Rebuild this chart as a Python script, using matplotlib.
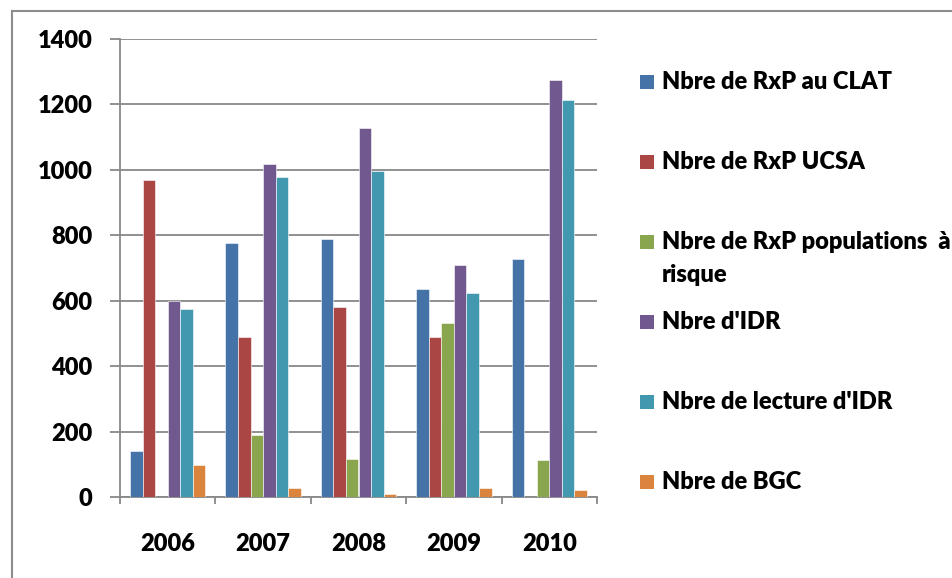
import matplotlib
matplotlib.use("Agg")
import matplotlib.pyplot as plt
from matplotlib.patches import Rectangle
from matplotlib.lines import Line2D
import numpy as np

years = ["2006", "2007", "2008", "2009", "2010"]
series_names = [
    "Nbre de RxP au CLAT",
    "Nbre de RxP UCSA",
    "Nbre de RxP populations  à\nrisque",
    "Nbre d'IDR",
    "Nbre de lecture d'IDR",
    "Nbre de BGC",
]
rxp_clat = [142, 777, 788, 636, 728]
rxp_ucsa = [970, 489, 581, 489, 0]
rxp_pop = [0, 191, 117, 532, 112]
idr = [598, 1019, 1129, 709, 1276]
lecture_idr = [575, 977, 995, 624, 1215]
bgc = [99, 27, 9, 27, 20]
values = [rxp_clat, rxp_ucsa, rxp_pop, idr, lecture_idr, bgc]
colors = ["#4572A7", "#AA4643", "#89A54E", "#71588F", "#4198AF", "#DB843D"]
yticks = [0, 200, 400, 600, 800, 1000, 1200, 1400]

W, H = 953, 578
fig = plt.figure(figsize=(W / 100, H / 100), dpi=100)
ax = fig.add_axes([120 / W, (H - 497) / H, (597 - 120) / W, (497 - 39) / H])

FONT = "Lato"
WEIGHT = "heavy"
x = np.arange(len(years))
w = 1 / 7.6
for i, (vals, c) in enumerate(zip(values, colors)):
    ax.bar(x + (i - 2.5) * w, vals, width=w, color=c, edgecolor="white",
           linewidth=0.4, zorder=3)

gray = "#888888"
ax.set_xlim(-0.5, len(years) - 0.5)
ax.set_ylim(0, 1400)
ax.set_yticks(yticks)
ax.set_yticklabels([str(v) for v in yticks], fontsize=17, fontweight=WEIGHT, family=FONT)
ax.yaxis.grid(True, color=gray, linewidth=1.3, zorder=0)
ax.set_axisbelow(True)
ax.set_xticks(x)
ax.set_xticklabels(years, fontsize=17, fontweight=WEIGHT, family=FONT)
ax.set_xticks(np.arange(-0.5, len(years)), minor=True)
ax.tick_params(axis="x", which="major", length=0, pad=26)
ax.tick_params(axis="x", which="minor", length=5, width=1.3, color=gray, direction="out")
ax.tick_params(axis="y", length=7, width=1.3, color=gray, direction="out", pad=13)
for s in ["top", "right"]:
    ax.spines[s].set_visible(False)
for s in ["left", "bottom"]:
    ax.spines[s].set_color(gray)
    ax.spines[s].set_linewidth(1.3)

# outer chart border (left and top visible)
fig.add_artist(Line2D([12 / W, 12 / W], [0, 1 - 11 / H], color="#8c8c8c", linewidth=1.5,
                      transform=fig.transFigure))
fig.add_artist(Line2D([12 / W, 1], [1 - 11 / H, 1 - 11 / H], color="#8c8c8c", linewidth=1.5,
                      transform=fig.transFigure))

# legend
y_first = 82
step = 80
for i, (name, c) in enumerate(zip(series_names, colors)):
    yc = y_first + i * step
    fig.add_artist(Rectangle((640 / W, 1 - (yc + 7) / H), 14 / W, 14 / H,
                             facecolor=c, edgecolor="none", transform=fig.transFigure))
    for j, ln in enumerate(name.split("\n")):
        fig.text(662 / W, 1 - (yc + j * 33) / H, ln, fontsize=17, fontweight=WEIGHT,
                 family=FONT, va="center", ha="left")

fig.savefig("out.png", dpi=100)
